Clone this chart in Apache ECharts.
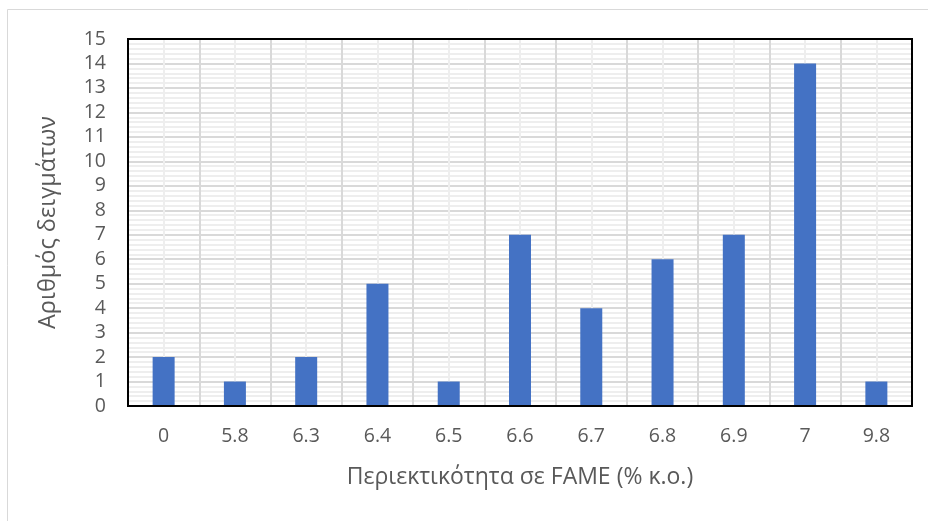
<!DOCTYPE html>
<html>
<head>
<meta charset="utf-8">
<script src="https://cdn.jsdelivr.net/npm/echarts@6/dist/echarts.min.js"></script>
<style>
  html, body { margin: 0; padding: 0; background: #fff; }
  #chart { width: 928px; height: 521px; }
</style>
</head>
<body>
<div id="chart"></div>
<script>
// FAME content classes and number of samples in each
const categories = ['0', '5.8', '6.3', '6.4', '6.5', '6.6', '6.7', '6.8', '6.9', '7', '9.8'];
const sampleCounts = [2, 1, 2, 5, 1, 7, 4, 6, 7, 14, 1];
const yTicks = { min: 0, max: 15, interval: 1 };

const xTitle = 'Περιεκτικότητα σε FAME (% κ.ο.)';
const yTitle = 'Αριθμός δειγμάτων';

const FONT = '"Open Sans", "Noto Sans", sans-serif';
const TXT = '#595959';

const chart = echarts.init(document.getElementById('chart'), null, { renderer: 'canvas' });

chart.setOption({
  animation: false,
  backgroundColor: '#ffffff',
  grid: { left: 128, right: 16, top: 39, bottom: 115, containLabel: false, show: false },
  xAxis: [
    {
      type: 'category',
      data: categories,
      boundaryGap: true,
      name: xTitle,
      nameLocation: 'middle',
      nameGap: 60,
      nameTextStyle: { fontFamily: FONT, fontSize: 23, color: TXT },
      axisLine: { show: true, lineStyle: { color: '#000', width: 2 } },
      axisTick: { show: false },
      axisLabel: { fontFamily: FONT, fontSize: 19.5, color: TXT, margin: 20 },
      splitLine: { show: false }
    },
    {
      // half-category guide axis: dark lines between categories, light ones through centres
      type: 'value',
      position: 'bottom',
      min: 0,
      max: categories.length * 2,
      interval: 1,
      axisLine: { show: false },
      axisTick: { show: false },
      axisLabel: { show: false },
      splitLine: { show: true, lineStyle: { color: ['#d9d9d9', '#eeeeee'], width: 2 } }
    }
  ],
  yAxis: {
    type: 'value',
    min: yTicks.min,
    max: yTicks.max,
    interval: yTicks.interval,
    name: yTitle,
    nameLocation: 'middle',
    nameGap: 68,
    nameTextStyle: { fontFamily: FONT, fontSize: 23.5, color: TXT },
    axisLine: { show: true, lineStyle: { color: '#000', width: 2 } },
    axisTick: { show: false },
    axisLabel: { fontFamily: FONT, fontSize: 19.5, color: TXT, margin: 22 },
    splitLine: { show: true, lineStyle: { color: '#d9d9d9', width: 2 } },
    minorTick: { show: false, splitNumber: 5 },
    minorSplitLine: { show: true, lineStyle: { color: '#eeeeee', width: 2 } }
  },
  series: [
    {
      type: 'bar',
      xAxisIndex: 0,
      data: sampleCounts,
      barWidth: 22,
      z: 3,
      itemStyle: { color: '#4472c4' }
    }
  ]
});

// outer chart frame (top/left edges fall inside the canvas) and black plot frame
const rect = chart.getModel().getComponent('grid', 0).coordinateSystem.getRect();
chart.setOption({
  graphic: [
    {
      type: 'rect',
      shape: { x: 7.5, y: 9.5, width: 1000, height: 1000 },
      style: { fill: 'none', stroke: '#d9d9d9', lineWidth: 1 },
      z: -10
    },
    {
      type: 'rect',
      shape: { x: rect.x, y: rect.y, width: rect.width, height: rect.height },
      style: { fill: 'none', stroke: '#000', lineWidth: 2 },
      z: 10
    }
  ]
});
</script>
</body>
</html>
